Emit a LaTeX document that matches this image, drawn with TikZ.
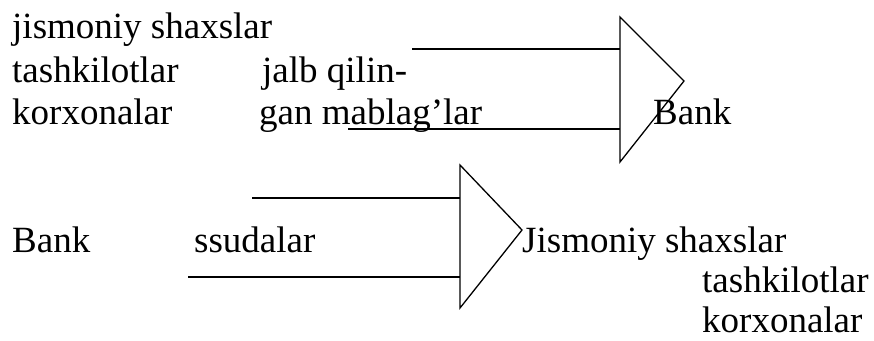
\documentclass[tikz,border=0pt]{standalone}
\usepackage{fontspec}
\setmainfont{Liberation Serif}
\begin{document}
\begin{tikzpicture}[x=1pt,y=-1pt,
  lbl/.style={anchor=base west,inner sep=0pt,font=\fontsize{37}{43}\selectfont},
  tri/.style={draw,line width=1.3pt,line join=miter},
  wire/.style={draw,line width=1.3pt}]
\useasboundingbox (0,0) rectangle (874,340);
% upper flow: sources -> Bank
\node[lbl] (s1) at (12,38) {jismoniy shaxslar};
\node[lbl] (s2) at (12,82) {tashkilotlar};
\node[lbl] (s3) at (12,124) {korxonalar};
\node[lbl] (m1) at (262,82) {jalb qilin-};
\node[lbl] (m2) at (259,124) {gan mablag’lar};
\coordinate (t1a) at (620,17);
\coordinate (t1b) at (620,162);
\coordinate (t1c) at (684,81);
\path[tri] (t1a) -- (t1c) -- (t1b) -- cycle;
\node[lbl] (bank1) at (653,124) {Bank};
\coordinate (w1) at (412,49);
\coordinate (w2) at (348,129);
\path[wire] (w1) -- (w1 -| t1a);
\path[wire] (w2) -- (w2 -| t1a);
% lower flow: Bank -> borrowers
\node[lbl] (bank2) at (12,252) {Bank};
\node[lbl] (loan) at (194,252) {ssudalar};
\coordinate (t2a) at (460,165);
\coordinate (t2b) at (460,308);
\coordinate (t2c) at (522,230);
\path[tri] (t2a) -- (t2c) -- (t2b) -- cycle;
\node[lbl] (d1) at (522,252) {Jismoniy shaxslar};
\node[lbl] (d2) at (702,292) {tashkilotlar};
\node[lbl] (d3) at (702,332) {korxonalar};
\coordinate (w3) at (252,198);
\coordinate (w4) at (188,277);
\path[wire] (w3) -- (w3 -| t2a);
\path[wire] (w4) -- (w4 -| t2a);
\end{tikzpicture}
\end{document}
